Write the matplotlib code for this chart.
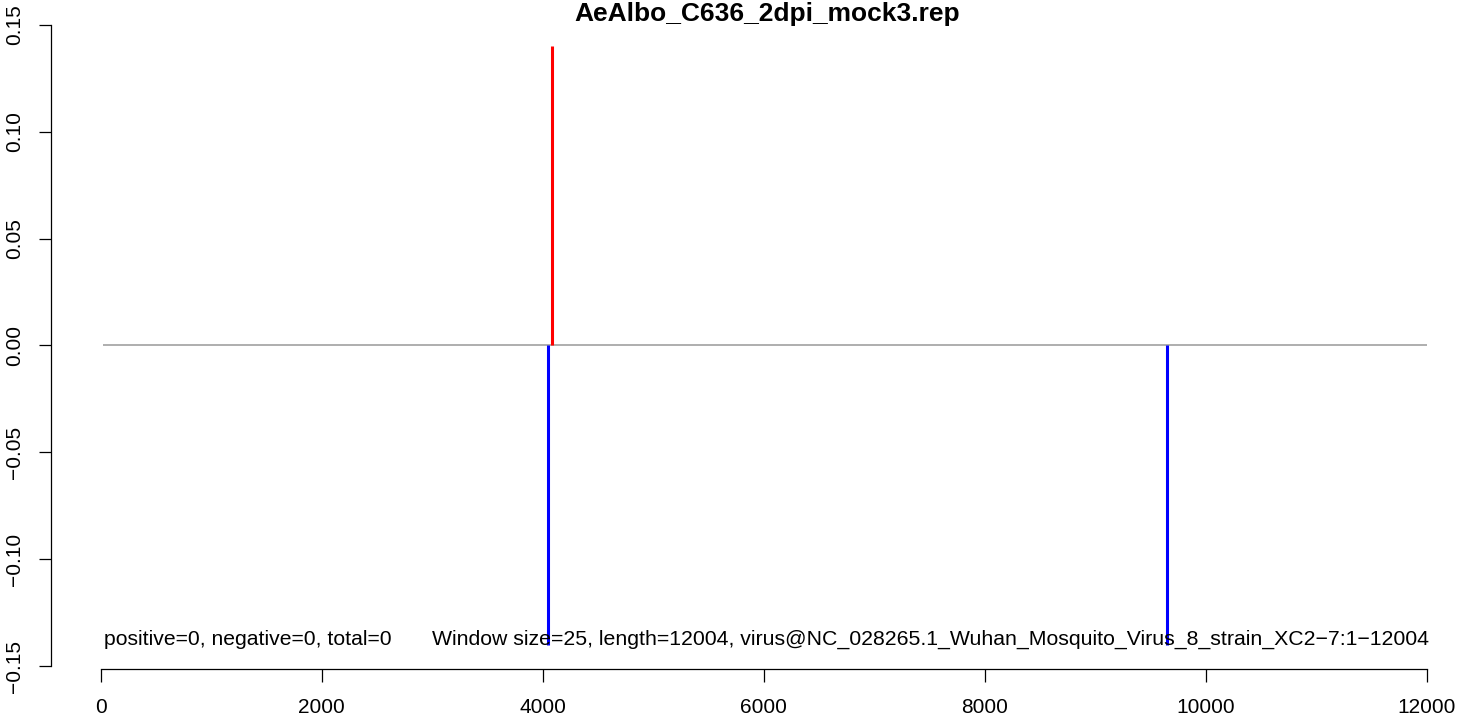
import matplotlib.pyplot as plt

plt.rcParams['font.family'] = ['Liberation Sans', 'DejaVu Sans']

title = "AeAlbo_C636_2dpi_mock3.rep"
seq_start = 25
seq_length = 12004

# positive strand reads (red) and negative strand reads (blue)
pos_x = [4087]
pos_y = [0.14]
neg_x = [4050, 9650]
neg_y = [-0.14, -0.14]

xticks = [0, 2000, 4000, 6000, 8000, 10000, 12000]
yticks = [-0.15, -0.10, -0.05, 0.00, 0.05, 0.10, 0.15]
ytick_labels = ["\u22120.15", "\u22120.10", "\u22120.05", "0.00", "0.05", "0.10", "0.15"]

info_left = "positive=0, negative=0, total=0"
info_right = "Window size=25, length=12004, virus@NC_028265.1_Wuhan_Mosquito_Virus_8_strain_XC2\u22127:1\u221212004"

W, H = 1460, 719
fig = plt.figure(figsize=(W / 100, H / 100), dpi=100)
ax = fig.add_axes([50.7 / W, (H - 669) / H, (1450 - 50.7) / W, (669 - 10) / H])

ax.hlines(0, seq_start, seq_length, color='#999999', linewidth=1.1)
ax.vlines(pos_x, 0, pos_y, color='#ff0000', linewidth=2.2)
ax.vlines(neg_x, 0, neg_y, color='#0000ff', linewidth=2.2)

ax.text(30, -0.1402, info_left, fontsize=15.2, ha='left', va='baseline')
ax.text(3000, -0.1402, info_right, fontsize=15.3, ha='left', va='baseline')

ax.set_xlim(-452.5, 12211)
ax.set_ylim(-0.1514, 0.1570)

# R style axes
for s in ['top', 'right']:
    ax.spines[s].set_visible(False)
ax.spines['left'].set_bounds(-0.15, 0.15)
ax.spines['bottom'].set_bounds(0, 12000)
ax.spines['left'].set_linewidth(0.9)
ax.spines['bottom'].set_linewidth(0.9)

ax.set_xticks(xticks)
ax.set_xticklabels([str(t) for t in xticks])
ax.set_yticks(yticks)
ax.set_yticklabels(ytick_labels, rotation=90, va='center')
ax.tick_params(direction='out', length=9, width=0.9, labelsize=15)
ax.tick_params(axis='x', pad=12)
ax.tick_params(axis='y', pad=10)

fig.text(767.5 / W, 1 - 21 / H, title, fontsize=19, fontweight='bold',
         ha='center', va='baseline')

fig.savefig('out.png', dpi=100)
